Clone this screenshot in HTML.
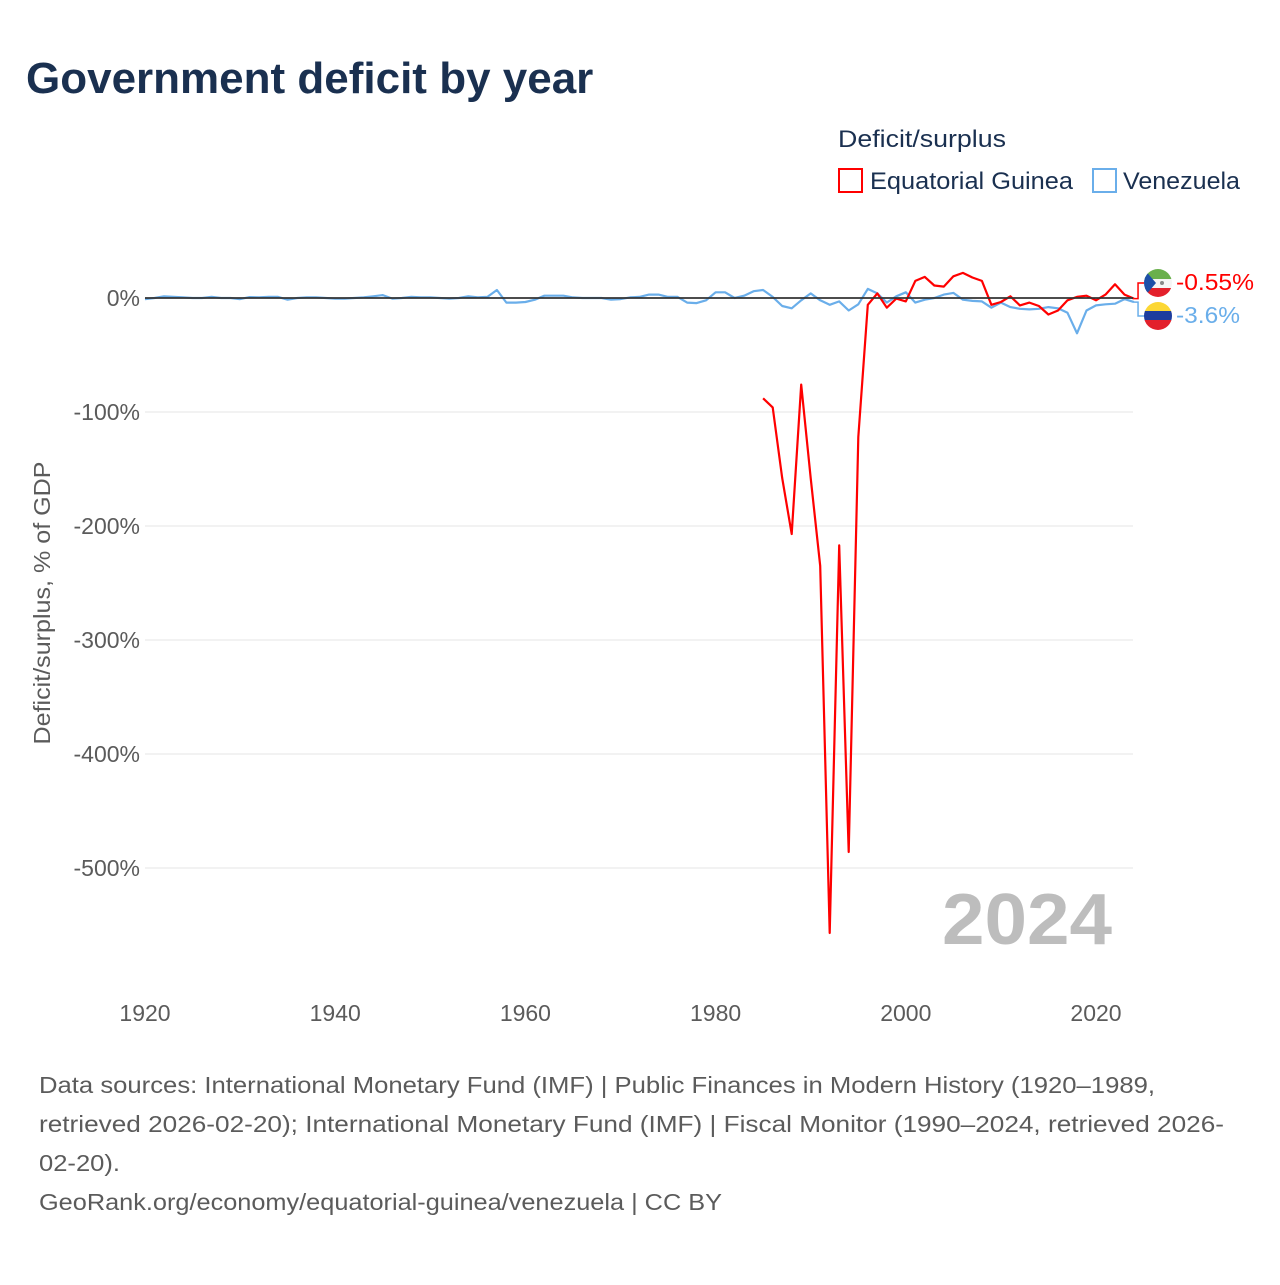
<!DOCTYPE html>
<html><head><meta charset="utf-8">
<style>
body{margin:0;background:#fff;font-family:"Liberation Sans",sans-serif;}
#wrap{position:relative;width:1280px;height:1280px;}
</style></head>
<body>
<div id="wrap">
<svg id="chart" width="1280" height="1280" xmlns="http://www.w3.org/2000/svg">
  <text x="26" y="93" font-size="44" font-weight="bold" fill="#1a3050">Government deficit by year</text>
  <text x="838" y="147" font-size="24" fill="#1a3050" textLength="168" lengthAdjust="spacingAndGlyphs">Deficit/surplus</text>
  <rect x="839" y="169" width="23" height="23" fill="none" stroke="#ff0000" stroke-width="2"/>
  <text x="870" y="189" font-size="24" fill="#1a3050" textLength="203" lengthAdjust="spacingAndGlyphs">Equatorial Guinea</text>
  <rect x="1093" y="169" width="23" height="23" fill="none" stroke="#6aaeea" stroke-width="2"/>
  <text x="1123" y="189" font-size="24" fill="#1a3050" textLength="117" lengthAdjust="spacingAndGlyphs">Venezuela</text>
  <g id="grid"></g>
  <g id="series"></g>
  <text x="942" y="944" font-size="72" font-weight="bold" fill="#bdbdbd" textLength="170" lengthAdjust="spacingAndGlyphs">2024</text>
  <text transform="translate(50,603) rotate(-90)" font-size="23" fill="#5b5b5b" text-anchor="middle" textLength="283" lengthAdjust="spacingAndGlyphs">Deficit/surplus, % of GDP</text>
  <g font-size="23" fill="#5b5b5b">
    <text x="39" y="1093" textLength="1116" lengthAdjust="spacingAndGlyphs">Data sources: International Monetary Fund (IMF) | Public Finances in Modern History (1920–1989,</text>
    <text x="39" y="1132" textLength="1185" lengthAdjust="spacingAndGlyphs">retrieved 2026-02-20); International Monetary Fund (IMF) | Fiscal Monitor (1990–2024, retrieved 2026-</text>
    <text x="39" y="1171" textLength="81" lengthAdjust="spacingAndGlyphs">02-20).</text>
    <text x="39" y="1210" textLength="683" lengthAdjust="spacingAndGlyphs">GeoRank.org/economy/equatorial-guinea/venezuela | CC BY</text>
  </g>
</svg>
</div>
<script>
const yTicks = [0, -100, -200, -300, -400, -500];
const xTicks = [1920, 1940, 1960, 1980, 2000, 2020];
const venStart = 1920;
const venValues = [-1,0,1.5,1,0.5,0,0,1,0,0,-1,0.8,0.5,1,1,-1.5,0,0.5,0.5,0,-0.5,-0.5,0,0.5,1.5,2.5,-0.5,0,1,0.5,0.5,0,-0.5,0,1.5,0.5,1,7,-4,-4,-3.5,-1.5,2,2,2,0.5,0,0,0,-1.5,-1,0.5,1,3,3,1,1,-4,-4.5,-2,5,5,0,2,6,7,1,-7,-9,-2,4,-2,-6,-3,-11,-5.5,8,4,-4,1.5,5,-4,-1.5,0,3,4.5,-1.5,-2.5,-3,-8.5,-4,-8,-9.5,-10,-9.5,-8,-9,-13,-31,-11,-6.5,-5.5,-5,-1,-3.6];
const eqgStart = 1985;
const eqgValues = [-88,-96,-158,-207,-76,-158,-235,-557,-217,-486,-122,-6,4,-8.5,-0.5,-3,15,18.5,11,10,19,22,18,15,-6,-3.5,1.5,-6.5,-4,-7,-14.5,-11,-2,1,2,-2,3,12,3,-0.55];
const labelValues = ["-0.55%", "-3.6%"];

const NS = "http://www.w3.org/2000/svg";
const xS = yr => 145 + (yr - 1920) * 9.51;
const yS = v => 298 - v * 1.14;
const grid = document.getElementById('grid');
const series = document.getElementById('series');
function mk(tag, attrs, parent){ const e = document.createElementNS(NS, tag); for (const k in attrs) e.setAttribute(k, attrs[k]); parent.appendChild(e); return e; }

yTicks.forEach(t => {
  if (t !== 0) {
    const l = mk('line', {x1:145, x2:1133, y1:yS(t), y2:yS(t), stroke:'#e6e6e6', 'stroke-width':1}, grid);
    
    
  }
  const tx = mk('text', {x:140, y:yS(t)+8, 'font-size':23, fill:'#5b5b5b', 'text-anchor':'end'}, grid);
  tx.textContent = t + '%';
  
  
});
xTicks.forEach(t => {
  const tx = mk('text', {x:xS(t), y:1021, 'font-size':23, fill:'#5b5b5b', 'text-anchor':'middle'}, grid);
  tx.textContent = t;
  
  
});

function pathFor(start, vals){ return vals.map((v,i) => (i ? 'L' : 'M') + xS(start+i).toFixed(1) + ',' + yS(v).toFixed(1)).join(''); }
const vp = mk('path', {d:pathFor(venStart, venValues), fill:'none', stroke:'#6aaeea', 'stroke-width':2.2, 'stroke-linejoin':'round'}, series);


const ep = mk('path', {d:pathFor(eqgStart, eqgValues), fill:'none', stroke:'#ff0000', 'stroke-width':2.2, 'stroke-linejoin':'round'}, series);


const zl = mk('line', {x1:145, x2:1133, y1:yS(0), y2:yS(0), stroke:'#333', 'stroke-width':1.8}, series);



const xe = xS(2024);
const ey = yS(eqgValues[eqgValues.length-1]), vy = yS(venValues[venValues.length-1]);
const c1 = mk('path', {d:`M${xe},${ey} L${xe+4},${ey} L${xe+4},283 L${xe+12},283`, fill:'none', stroke:'#ff0000', 'stroke-width':1.5}, series);


const c2 = mk('path', {d:`M${xe},${vy} L${xe+4},${vy} L${xe+4},316 L${xe+12},316`, fill:'none', stroke:'#6aaeea', 'stroke-width':1.5}, series);



const defs = mk('defs', {}, series);
const cp1 = mk('clipPath', {id:'cEq'}, defs); mk('circle', {cx:1158, cy:283, r:14}, cp1);
const cp2 = mk('clipPath', {id:'cVe'}, defs); mk('circle', {cx:1158, cy:316, r:14}, cp2);
const f1 = mk('g', {'clip-path':'url(#cEq)'}, series);


mk('rect', {x:1144, y:269, width:28, height:10, fill:'#6ab04c'}, f1);
mk('rect', {x:1144, y:279, width:28, height:9, fill:'#f5f5f5'}, f1);
mk('rect', {x:1144, y:288, width:28, height:10, fill:'#e3202b'}, f1);
mk('polygon', {points:'1144,269 1156,283 1144,297', fill:'#1d4fa8'}, f1);
mk('circle', {cx:1162, cy:283, r:2, fill:'#888'}, f1);
const f2 = mk('g', {'clip-path':'url(#cVe)'}, series);


mk('rect', {x:1144, y:302, width:28, height:10, fill:'#fcd734'}, f2);
mk('rect', {x:1144, y:311, width:28, height:10, fill:'#1d3d9e'}, f2);
mk('rect', {x:1144, y:320, width:28, height:10, fill:'#e3202b'}, f2);

const l1 = mk('text', {x:1176, y:290, 'font-size':23, fill:'#ff0000', textLength:78, lengthAdjust:'spacingAndGlyphs'}, series);
l1.textContent = labelValues[0];


const l2 = mk('text', {x:1176, y:323, 'font-size':23, fill:'#6aaeea', textLength:64, lengthAdjust:'spacingAndGlyphs'}, series);
l2.textContent = labelValues[1];


</script>
</body></html>
